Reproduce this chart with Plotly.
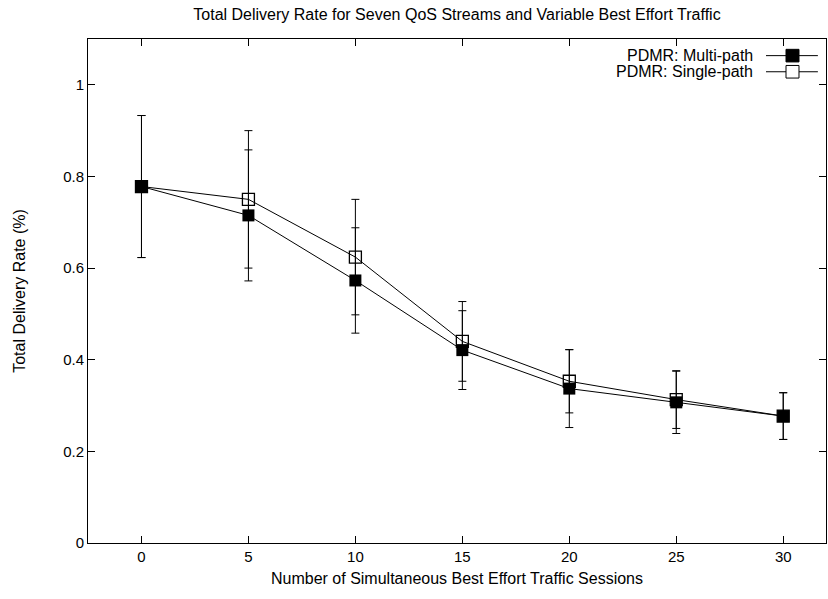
import plotly.graph_objects as go

sessions = [0, 5, 10, 15, 20, 25, 30]
multi_rate = [0.778, 0.715, 0.573, 0.421, 0.337, 0.307, 0.277]
multi_err = [0.155, 0.143, 0.115, 0.086, 0.085, 0.068, 0.051]
single_rate = [0.778, 0.750, 0.624, 0.440, 0.353, 0.313, 0.277]
single_err = [0.155, 0.150, 0.126, 0.087, 0.069, 0.063, 0.051]

series_names = ["PDMR: Multi-path", "PDMR: Single-path"]
x_ticks = [0, 5, 10, 15, 20, 25, 30]
y_ticks = [0, 0.2, 0.4, 0.6, 0.8, 1]
y_tick_text = ["0", "0.2", "0.4", "0.6", "0.8", "1"]

FONT = "Liberation Sans, Arial, Helvetica, sans-serif"
FS = 16
TFS = 15

fig = go.Figure()
fig.add_trace(go.Scatter(
    x=sessions, y=single_rate, mode="lines+markers", name=series_names[1],
    line=dict(color="black", width=1),
    marker=dict(symbol="square-open", size=12, color="black", line=dict(width=1.3, color="black")),
    error_y=dict(type="data", array=single_err, visible=True, color="black", thickness=1, width=4),
    showlegend=False,
))
fig.add_trace(go.Scatter(
    x=sessions, y=multi_rate, mode="lines+markers", name=series_names[0],
    line=dict(color="black", width=1),
    marker=dict(symbol="square", size=12, color="black", line=dict(width=0)),
    error_y=dict(type="data", array=multi_err, visible=True, color="black", thickness=1, width=4),
    showlegend=False,
))

# gnuplot-style key: text on the left, sample on the right
key_rows = [0.967, 0.935]
for i, (name, yy) in enumerate(zip(series_names, key_rows)):
    fig.add_annotation(xref="paper", yref="paper", x=0.904, y=yy, text=name,
                       showarrow=False, xanchor="right", yanchor="middle",
                       font=dict(family=FONT, size=FS, color="black"))
    fig.add_shape(type="line", xref="paper", yref="paper", x0=0.9187, x1=0.989, y0=yy, y1=yy,
                  line=dict(color="black", width=1))
    fig.add_shape(type="rect", xref="paper", yref="paper",
                  x0=0.9458, x1=0.9634, y0=yy - 0.0125, y1=yy + 0.0125,
                  line=dict(color="black", width=1),
                  fillcolor="black" if i == 0 else "white")

fig.update_layout(
    width=828, height=599,
    margin=dict(l=88, r=2, t=39, b=56, autoexpand=False),
    paper_bgcolor="white", plot_bgcolor="white",
    font=dict(family=FONT, size=FS, color="black"),
    title=dict(text="Total Delivery Rate for Seven QoS Streams and Variable Best Effort Traffic",
               x=0.5519, xanchor="center", y=0.9766, yanchor="middle",
               font=dict(family=FONT, size=FS, color="black")),
    showlegend=False,
)
fig.update_xaxes(
    range=[-2.5, 32], tickvals=x_ticks, ticks="inside", ticklen=7, tickcolor="black",
    tickfont=dict(size=TFS), automargin=False,
    showline=True, linecolor="black", linewidth=1, mirror="ticks", showgrid=False, zeroline=False,
    title=dict(text="Number of Simultaneous Best Effort Traffic Sessions", standoff=8,
               font=dict(size=FS)),
)
fig.update_yaxes(
    range=[0, 1.1], tickvals=y_ticks, ticktext=y_tick_text, ticks="inside", ticklen=7, tickcolor="black",
    tickfont=dict(size=TFS), automargin=False,
    showline=True, linecolor="black", linewidth=1, mirror="ticks", showgrid=False, zeroline=False,
    title=dict(text="Total Delivery Rate (%)", standoff=33, font=dict(size=FS)),
)

fig.write_html("out.html", config={"displayModeBar": False},
               post_script="document.body.style.margin='0';document.body.style.overflow='hidden';")
